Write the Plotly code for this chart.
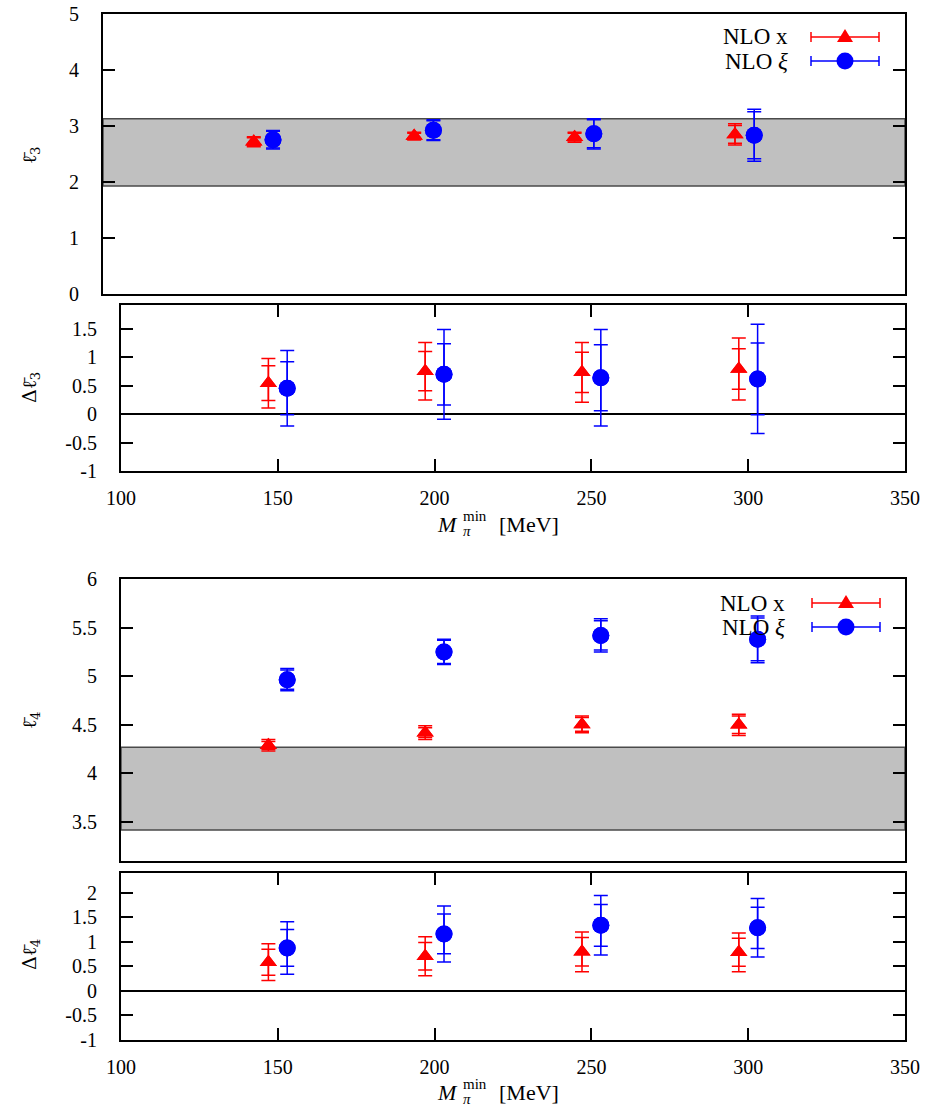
import plotly.graph_objects as go

# ---------------- data ----------------
mpi_min = [150, 200, 250, 300]          # MeV
shift = 3                               # horizontal display offset of the two series

# l3 bar
l3_x = [2.72, 2.82, 2.80, 2.85]
l3_x_stat = [0.07, 0.05, 0.07, 0.16]
l3_x_tot = [0.09, 0.07, 0.09, 0.19]
l3_xi = [2.755, 2.925, 2.86, 2.835]
l3_xi_stat = [0.15, 0.17, 0.25, 0.42]
l3_xi_tot = [0.165, 0.185, 0.27, 0.465]
l3_band = [1.93, 3.13]

# delta l3 bar
dl3_x = [0.545, 0.755, 0.735, 0.795]
dl3_x_stat = [0.305, 0.345, 0.355, 0.355]
dl3_x_tot = [0.435, 0.505, 0.525, 0.545]
dl3_xi = [0.455, 0.70, 0.64, 0.62]
dl3_xi_stat = [0.465, 0.54, 0.58, 0.63]
dl3_xi_tot = [0.665, 0.79, 0.85, 0.96]

# l4 bar
l4_x = [4.29, 4.42, 4.505, 4.50]
l4_x_stat = [0.04, 0.05, 0.07, 0.09]
l4_x_tot = [0.06, 0.07, 0.085, 0.11]
l4_xi = [4.965, 5.25, 5.42, 5.38]
l4_xi_stat = [0.10, 0.12, 0.15, 0.22]
l4_xi_tot = [0.115, 0.13, 0.17, 0.24]
l4_band = [3.42, 4.27]

# delta l4 bar
dl4_x = [0.585, 0.705, 0.795, 0.785]
dl4_x_stat = [0.265, 0.28, 0.29, 0.285]
dl4_x_tot = [0.375, 0.395, 0.405, 0.395]
dl4_xi = [0.875, 1.16, 1.335, 1.285]
dl4_xi_stat = [0.375, 0.405, 0.425, 0.42]
dl4_xi_tot = [0.535, 0.57, 0.605, 0.595]

x_ticks = [100, 150, 200, 250, 300, 350]
x_range = [100, 350]

# ---------------- layout helpers ----------------
W, H = 929, 1120
def px(x): return x / W
def py(y): return 1 - y / H

FONT = "Liberation Serif"
RED = "#ff0000"
BLUE = "#0000ff"

fig = go.Figure()

x_plus = [m + shift for m in mpi_min]
x_minus = [m - shift for m in mpi_min]

def add_series(xs, ys, stat, tot, color, symbol, size, xa, ya):
    fig.add_trace(go.Scatter(
        x=xs, y=ys, mode="markers", xaxis=xa, yaxis=ya, showlegend=False,
        marker=dict(color=color, symbol=symbol, size=size, line=dict(width=0)),
        error_y=dict(type="data", array=tot, color=color, thickness=1.5, width=7)))
    fig.add_trace(go.Scatter(
        x=xs, y=ys, mode="markers", xaxis=xa, yaxis=ya, showlegend=False,
        marker=dict(color=color, symbol=symbol, size=size, line=dict(width=0)),
        error_y=dict(type="data", array=stat, color=color, thickness=1.5, width=7)))

def add_band(band, xa, ya):
    lo, hi = band
    fig.add_trace(go.Scatter(
        x=[x_range[0], x_range[1], x_range[1], x_range[0], x_range[0]],
        y=[lo, lo, hi, hi, lo], mode="lines", fill="toself",
        fillcolor="#c0c0c0", line=dict(color="#4a4a4a", width=1.5),
        xaxis=xa, yaxis=ya, showlegend=False, hoverinfo="skip"))

add_band(l3_band, "x", "y")
add_series(x_minus, l3_x, l3_x_stat, l3_x_tot, RED, "triangle-up", 15, "x", "y")
add_series(x_plus, l3_xi, l3_xi_stat, l3_xi_tot, BLUE, "circle", 17, "x", "y")
add_series(x_minus, dl3_x, dl3_x_stat, dl3_x_tot, RED, "triangle-up", 15, "x2", "y2")
add_series(x_plus, dl3_xi, dl3_xi_stat, dl3_xi_tot, BLUE, "circle", 17, "x2", "y2")
add_band(l4_band, "x3", "y3")
add_series(x_minus, l4_x, l4_x_stat, l4_x_tot, RED, "triangle-up", 15, "x3", "y3")
add_series(x_plus, l4_xi, l4_xi_stat, l4_xi_tot, BLUE, "circle", 17, "x3", "y3")
add_series(x_minus, dl4_x, dl4_x_stat, dl4_x_tot, RED, "triangle-up", 15, "x4", "y4")
add_series(x_plus, dl4_xi, dl4_xi_stat, dl4_xi_tot, BLUE, "circle", 17, "x4", "y4")

tickfont = dict(family=FONT, size=20, color="black")

def xaxis(domain, anchor, labels):
    d = dict(domain=domain, anchor=anchor, range=x_range, showline=True, mirror=True,
             linecolor="black", linewidth=2, showgrid=False, zeroline=False,
             tickfont=tickfont, automargin=False)
    if labels:
        d.update(tickvals=x_ticks, ticktext=[str(v) for v in x_ticks], ticks="inside",
                 ticklen=12, tickwidth=1.5, tickcolor="black", mirror="ticks",
                 showticklabels=True, ticklabelstandoff=8)
    else:
        d.update(ticks="", showticklabels=False)
    return d

def yaxis(domain, anchor, rng, vals, texts, zero):
    return dict(domain=domain, anchor=anchor, range=rng, showline=True, mirror="ticks",
                linecolor="black", linewidth=2, showgrid=False, zeroline=zero,
                zerolinecolor="black", zerolinewidth=1.5,
                tickvals=vals, ticktext=texts, ticks="inside", ticklen=12,
                tickwidth=1.5, tickcolor="black", tickfont=tickfont,
                ticklabelstandoff=18, automargin=False)

d1x = [px(103), px(905)]
dx = [px(121), px(905)]

fig.update_layout(
    template="none",
    width=W, height=H, margin=dict(l=0, r=0, t=0, b=0, pad=0), autosize=False,
    paper_bgcolor="white", plot_bgcolor="white", showlegend=False,
    xaxis=xaxis(d1x, "y", False),
    yaxis=yaxis([py(294), py(14)], "x", [0, 5], [0, 1, 2, 3, 4, 5],
                ["0", "1", "2", "3", "4", "5"], False),
    xaxis2=xaxis(dx, "y2", True),
    yaxis2=yaxis([py(471), py(305)], "x2", [-1, 1.92], [-1, -0.5, 0, 0.5, 1, 1.5],
                 ["-1", "-0.5", "0", "0.5", "1", "1.5"], True),
    xaxis3=xaxis(dx, "y3", False),
    yaxis3=yaxis([py(861), py(579)], "x3", [3.1, 6], [3.5, 4, 4.5, 5, 5.5, 6],
                 ["3.5", "4", "4.5", "5", "5.5", "6"], False),
    xaxis4=xaxis(dx, "y4", True),
    yaxis4=yaxis([py(1040), py(873)], "x4", [-1, 2.4], [-1, -0.5, 0, 0.5, 1, 1.5, 2],
                 ["-1", "-0.5", "0", "0.5", "1", "1.5", "2"], True),
)

annotations = []
shapes = []

def ann(text, x, y, font, xanchor="center", angle=0):
    annotations.append(dict(text=text, x=px(x), y=py(y), xref="paper", yref="paper",
                            xanchor=xanchor, yanchor="middle", showarrow=False,
                            textangle=angle, font=font))

yfont = dict(family="DejaVu Serif", size=19, color="black")
ann("ℓ\u0304<sub>3</sub>", 30, 155, yfont, angle=-90)
ann("Δℓ\u0304<sub>3</sub>", 30, 388, yfont, angle=-90)
ann("ℓ\u0304<sub>4</sub>", 30, 720, yfont, angle=-90)
ann("Δℓ\u0304<sub>4</sub>", 30, 955, yfont, angle=-90)

def xtitle(ycen):
    f = dict(family=FONT, size=22, color="black")
    fs = dict(family=FONT, size=15, color="black")
    ann("<i>M</i>", 460, ycen, f, xanchor="right")
    ann("<i>π</i>", 461, ycen + 7, fs, xanchor="left")
    ann("min", 461, ycen - 8, fs, xanchor="left")
    ann("[MeV]", 497, ycen, f, xanchor="left")

xtitle(524)
xtitle(1092)

def legend_entry(label, ycen, color, kind, xtext=790, x0=811, x1=879):
    ann(label, xtext, ycen, dict(family=FONT, size=23, color="black"), xanchor="right")
    ln = dict(color=color, width=1.5)
    shapes.append(dict(type="line", xref="paper", yref="paper", x0=px(x0), x1=px(x1),
                       y0=py(ycen), y1=py(ycen), line=ln))
    for xc in (x0, x1):
        shapes.append(dict(type="line", xref="paper", yref="paper", x0=px(xc), x1=px(xc),
                           y0=py(ycen - 5), y1=py(ycen + 5), line=ln))
    xm = (x0 + x1) / 2
    if kind == "tri":
        shapes.append(dict(type="path", xref="paper", yref="paper", xsizemode="pixel",
                           ysizemode="pixel", xanchor=px(xm), yanchor=py(ycen),
                           path="M -8,-5 L 8,-5 L 0,8 Z", fillcolor=color,
                           line=dict(width=0)))
    else:
        shapes.append(dict(type="circle", xref="paper", yref="paper", xsizemode="pixel",
                           ysizemode="pixel", xanchor=px(xm), yanchor=py(ycen),
                           x0=-8.5, x1=8.5, y0=-8.5, y1=8.5, fillcolor=color,
                           line=dict(width=0)))

legend_entry("NLO x", 37, RED, "tri")
legend_entry("NLO <i>ξ</i>", 61, BLUE, "circ")
legend_entry("NLO x", 603, RED, "tri", xtext=787, x0=812, x1=880)
legend_entry("NLO <i>ξ</i>", 627, BLUE, "circ", xtext=787, x0=812, x1=880)

fig.update_layout(annotations=annotations, shapes=shapes)
fig.write_html("out.html")
